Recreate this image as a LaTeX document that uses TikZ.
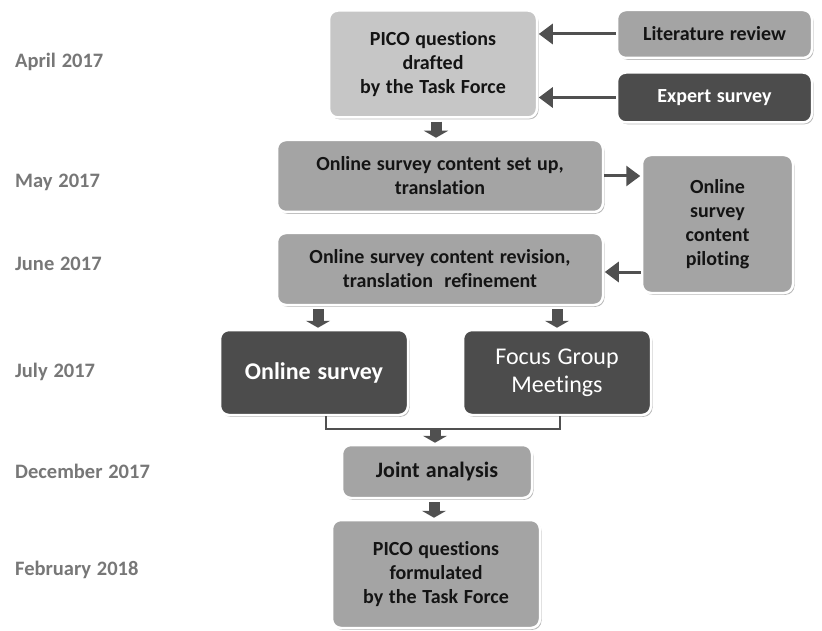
\documentclass[tikz,border=0pt]{standalone}
\usepackage{fontspec}
\setmainfont{Carlito}[Ligatures=NoCommon, WordSpace=1.25]
\usetikzlibrary{arrows.meta,shadows,calc}
\definecolor{lightbox}{HTML}{C6C6C6}
\definecolor{midbox}{HTML}{A4A4A4}
\definecolor{darkbox}{HTML}{4C4C4C}
\definecolor{labelgray}{HTML}{777777}
\definecolor{arrgray}{HTML}{505050}
\definecolor{txt}{HTML}{141414}
\begin{document}
\begin{tikzpicture}[x=1pt,y=-1pt,
  box/.style={rectangle, rounded corners=9pt, draw=white, line width=2.5pt,
    align=center, inner sep=1pt, text=txt,
    font=\bfseries\fontsize{20}{24}\selectfont,
    drop shadow={shadow xshift=1.5pt, shadow yshift=-1.8pt, opacity=0.55}},
  darkb/.style={box, fill=darkbox, text=white},
  lbl/.style={anchor=mid west, inner sep=0pt, text=labelgray, font=\bfseries\fontsize{20.5}{22}\selectfont},
  harrow/.style={draw=arrgray, line width=3pt, -{Triangle[width=20pt,length=14pt]}, shorten >=0.5pt},
  varrow/.style={draw=arrgray, line width=11pt, -{Triangle[width=24pt,length=7pt]}, shorten <=3pt, shorten >=1pt},
  conn/.style={draw=arrgray, line width=2pt},
]
\useasboundingbox[fill=white] (0,0) rectangle (822,631);

% time labels
\node[lbl] (t1) at (15,65.5) {April 2017};
\node[lbl] (t2) at (15,185) {May 2017};
\node[lbl] (t3) at (15,268.5) {June 2017};
\node[lbl] (t4) at (15,375) {July 2017};
\node[lbl] (t5) at (15,476) {December 2017};
\node[lbl] (t6) at (15,573) {February 2018};

% boxes
\node[box, fill=lightbox, minimum width=208, minimum height=107] (pico1) at (433,64) {PICO questions\\drafted\\by the Task Force};
\node[box, fill=midbox, minimum width=195, minimum height=48] (lit) at (714.5,34) {Literature review};
\node[darkb, minimum width=195, minimum height=50] (exp) at (714.5,97.5) {Expert survey};
\node[box, fill=midbox, minimum width=326, minimum height=72] (setup) at (440,176) {Online survey content set up,\\translation};
\node[box, fill=midbox, minimum width=151, minimum height=138] (pilot) at (717.5,224) {Online\\survey\\content\\piloting};
\node[box, fill=midbox, minimum width=326, minimum height=72] (rev) at (440,269) {Online survey content revision,\\translation\ \ refinement};
\node[darkb, minimum width=188, minimum height=85, font=\bfseries\fontsize{24}{28}\selectfont] (osurv) at (314,372.5) {Online survey};
\node[darkb, minimum width=188, minimum height=85, font=\fontsize{24}{28}\selectfont] (focus) at (557,372.5) {Focus Group\\Meetings};
\node[box, fill=midbox, minimum width=190, minimum height=53, font=\bfseries\fontsize{22}{26}\selectfont] (joint) at (437,471.5) {Joint analysis};
\node[box, fill=midbox, minimum width=208, minimum height=108] (pico2) at (436,574) {PICO questions\\formulated\\by the Task Force};

% horizontal arrows
\draw[harrow] (lit.west) -- (lit.west -| pico1.east);
\draw[harrow] (exp.west) -- (exp.west -| pico1.east);
\draw[harrow] (setup.east) -- (setup.east -| pilot.west);
\coordinate (pa) at ($(pilot.west)+(0,48)$);
\draw[harrow] (pa) -- (pa -| rev.east);

% vertical arrows
\draw[varrow] ([xshift=3pt]pico1.south) -- ([xshift=3pt]pico1.south |- setup.north);
\draw[varrow] ([xshift=4pt]osurv.north |- rev.south) -- ([xshift=4pt]osurv.north);
\draw[varrow] (focus.north |- rev.south) -- (focus.north);
\draw[conn] ([xshift=12pt]osurv.south) -- ++(0,13) coordinate (jl) -| ([xshift=3pt]focus.south);
\draw[varrow, shorten <=0pt] ([xshift=-2pt]jl -| joint.north) -- ([xshift=-2pt]joint.north);
\draw[varrow] ([xshift=-3pt]joint.south) -- ([xshift=-3pt]joint.south |- pico2.north);
\end{tikzpicture}
\end{document}
